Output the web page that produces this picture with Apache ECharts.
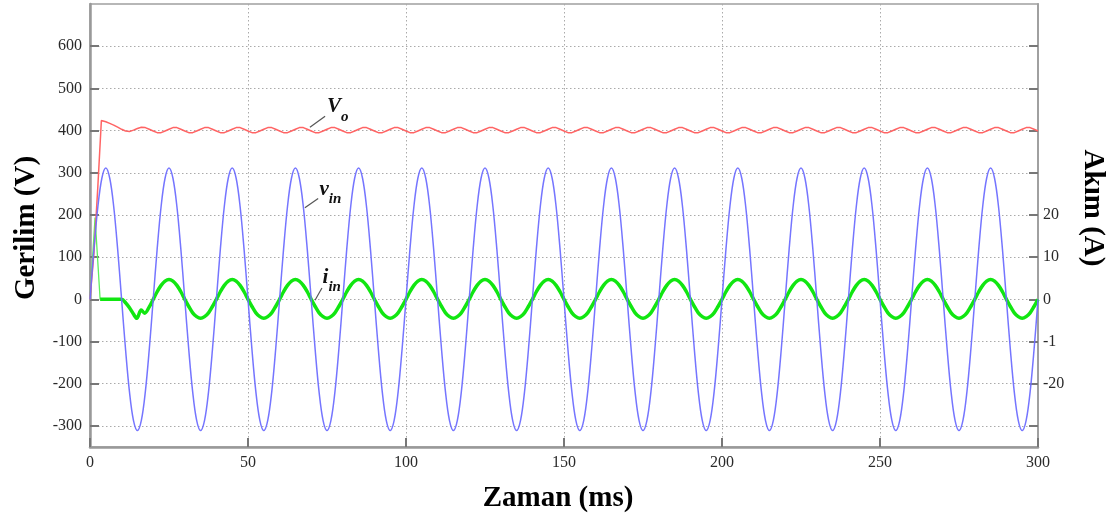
<!DOCTYPE html>
<html><head><meta charset="utf-8">
<script src="https://cdn.jsdelivr.net/npm/echarts@6/dist/echarts.min.js"></script>
<style>html,body{margin:0;padding:0;background:#fff}#c{width:1112px;height:519px}</style>
</head><body><div id="c"></div>
<script>
// ---------- data ----------
const STEP_MS = 1.25;               // sampling step of the sampled waveforms (ms)

// input voltage v_in (V), t = 0 .. 300 ms
const VIN = [
  0,119,220,287,311,287,220,119,0,-119,-220,-287,-311,-287,-220,-119,
  0,119,220,287,311,287,220,119,0,-119,-220,-287,-311,-287,-220,-119,
  0,119,220,287,311,287,220,119,0,-119,-220,-287,-311,-287,-220,-119,
  0,119,220,287,311,287,220,119,0,-119,-220,-287,-311,-287,-220,-119,
  0,119,220,287,311,287,220,119,0,-119,-220,-287,-311,-287,-220,-119,
  0,119,220,287,311,287,220,119,0,-119,-220,-287,-311,-287,-220,-119,
  0,119,220,287,311,287,220,119,0,-119,-220,-287,-311,-287,-220,-119,
  0,119,220,287,311,287,220,119,0,-119,-220,-287,-311,-287,-220,-119,
  0,119,220,287,311,287,220,119,0,-119,-220,-287,-311,-287,-220,-119,
  0,119,220,287,311,287,220,119,0,-119,-220,-287,-311,-287,-220,-119,
  0,119,220,287,311,287,220,119,0,-119,-220,-287,-311,-287,-220,-119,
  0,119,220,287,311,287,220,119,0,-119,-220,-287,-311,-287,-220,-119,
  0,119,220,287,311,287,220,119,0,-119,-220,-287,-311,-287,-220,-119,
  0,119,220,287,311,287,220,119,0,-119,-220,-287,-311,-287,-220,-119,
  0,119,220,287,311,287,220,119,0,-119,-220,-287,-311,-287,-220,-119,
  0
];

// output voltage V_o (V): start-up points [t(ms), V]
const VO_START = [[0,0],[1.25,110],[2.5,270],[3.6,424],[5,421],[6.25,417],[7.5,413],[8.75,408],
  [10,403],[11.25,399],[12.5,398],[13.75,401],[15,405],[16.25,408],[17.5,407],[18.75,403]];
// output voltage V_o (V), steady part, t = 20 .. 300 ms
const VO_T0 = 20;
const VO_STEADY = [
  399,395,395,399,403,407,407,403, 399,395,395,399,403,407,407,403,
  399,395,395,399,403,407,407,403, 399,395,395,399,403,407,407,403,
  399,395,395,399,403,407,407,403, 399,395,395,399,403,407,407,403,
  399,395,395,399,403,407,407,403, 399,395,395,399,403,407,407,403,
  399,395,395,399,403,407,407,403, 399,395,395,399,403,407,407,403,
  399,395,395,399,403,407,407,403, 399,395,395,399,403,407,407,403,
  399,395,395,399,403,407,407,403, 399,395,395,399,403,407,407,403,
  399,395,395,399,403,407,407,403, 399,395,395,399,403,407,407,403,
  399,395,395,399,403,407,407,403, 399,395,395,399,403,407,407,403,
  399,395,395,399,403,407,407,403, 399,395,395,399,403,407,407,403,
  399,395,395,399,403,407,407,403, 399,395,395,399,403,407,407,403,
  399,395,395,399,403,407,407,403, 399,395,395,399,403,407,407,403,
  399,395,395,399,403,407,407,403, 399,395,395,399,403,407,407,403,
  399,395,395,399,403,407,407,403, 399,395,395,399,403,407,407,403,
  399
];

// input current i_in (A): inrush spike [t(ms), A]
const IIN_SPIKE = [[0,0],[1.6,19.4],[3.2,0]];
// input current i_in (A): first cycle [t(ms), A]
const IIN_START = [[3.2,0],[10,0],[11.25,-0.8],[12.5,-2.0],[13.75,-3.5],[14.8,-4.5],[16.2,-2.5],
  [17.3,-3.3],[18.75,-1.8]];
// input current i_in (A), steady part, t = 20 .. 300 ms
const IIN_T0 = 20;
const IIN_STEADY = [
  0,1.8,3.3,4.3,4.7,4.3,3.3,1.8,0,-1.7,-3.2,-4.1,-4.5,-4.1,-3.2,-1.7,
  0,1.8,3.3,4.3,4.7,4.3,3.3,1.8,0,-1.7,-3.2,-4.1,-4.5,-4.1,-3.2,-1.7,
  0,1.8,3.3,4.3,4.7,4.3,3.3,1.8,0,-1.7,-3.2,-4.1,-4.5,-4.1,-3.2,-1.7,
  0,1.8,3.3,4.3,4.7,4.3,3.3,1.8,0,-1.7,-3.2,-4.1,-4.5,-4.1,-3.2,-1.7,
  0,1.8,3.3,4.3,4.7,4.3,3.3,1.8,0,-1.7,-3.2,-4.1,-4.5,-4.1,-3.2,-1.7,
  0,1.8,3.3,4.3,4.7,4.3,3.3,1.8,0,-1.7,-3.2,-4.1,-4.5,-4.1,-3.2,-1.7,
  0,1.8,3.3,4.3,4.7,4.3,3.3,1.8,0,-1.7,-3.2,-4.1,-4.5,-4.1,-3.2,-1.7,
  0,1.8,3.3,4.3,4.7,4.3,3.3,1.8,0,-1.7,-3.2,-4.1,-4.5,-4.1,-3.2,-1.7,
  0,1.8,3.3,4.3,4.7,4.3,3.3,1.8,0,-1.7,-3.2,-4.1,-4.5,-4.1,-3.2,-1.7,
  0,1.8,3.3,4.3,4.7,4.3,3.3,1.8,0,-1.7,-3.2,-4.1,-4.5,-4.1,-3.2,-1.7,
  0,1.8,3.3,4.3,4.7,4.3,3.3,1.8,0,-1.7,-3.2,-4.1,-4.5,-4.1,-3.2,-1.7,
  0,1.8,3.3,4.3,4.7,4.3,3.3,1.8,0,-1.7,-3.2,-4.1,-4.5,-4.1,-3.2,-1.7,
  0,1.8,3.3,4.3,4.7,4.3,3.3,1.8,0,-1.7,-3.2,-4.1,-4.5,-4.1,-3.2,-1.7,
  0,1.8,3.3,4.3,4.7,4.3,3.3,1.8,0,-1.7,-3.2,-4.1,-4.5,-4.1,-3.2,-1.7,
  0
];

// axes
const X_TICKS = [0, 50, 100, 150, 200, 250, 300];
const Y_TICKS = [-300, -200, -100, 0, 100, 200, 300, 400, 500, 600];
const Y2_TICKS = [-30, -20, -10, 0, 10, 20, 30, 40, 50, 60];
const Y2_LABEL_VALUES = [-20, -10, 0, 10, 20];
const Y2_LABEL_TEXT = ['-20', '-1', '0', '10', '20'];

const TITLES = { x: 'Zaman (ms)', y: 'Gerilim (V)', y2: 'Akım (A)' };

// ---------- chart ----------
const SERIF = "'Liberation Serif', 'Times New Roman', serif";
const toPairs = (arr, t0) => arr.map((v, i) => [t0 + i * STEP_MS, v]);

const chart = echarts.init(document.getElementById('c'), null, { renderer: 'canvas' });

const labelStyle = { color: '#2a2a2a', fontFamily: SERIF, fontSize: 16 };
const tickStyle = { show: true, inside: true, length: 9, lineStyle: { color: '#777', width: 2 } };
const gridLine = { show: true, lineStyle: { color: '#aaa', width: 1, type: [1.5, 2.5] } };

chart.setOption({
  animation: false,
  backgroundColor: '#fff',
  grid: { left: 90, right: 74, top: 4, bottom: 72, show: true, borderColor: '#a0a0a0', borderWidth: 1.5 },
  xAxis: {
    type: 'value', min: 0, max: 300, interval: 50,
    axisLine: { show: true, onZero: false, lineStyle: { color: '#999', width: 2.5 } },
    axisTick: tickStyle,
    axisLabel: Object.assign({ margin: 8 }, labelStyle),
    splitLine: gridLine
  },
  yAxis: [{
    type: 'value', min: -350, max: 700, position: 'left',
    axisLine: { show: true, onZero: false, lineStyle: { color: '#999', width: 2.5 } },
    axisTick: Object.assign({}, tickStyle, { customValues: Y_TICKS }),
    axisLabel: Object.assign({ margin: 8, customValues: Y_TICKS }, labelStyle),
    splitLine: gridLine
  }, {
    type: 'value', min: -35, max: 70, position: 'right',
    axisLine: { show: true, onZero: false, lineStyle: { color: '#a0a0a0', width: 2 } },
    axisTick: Object.assign({}, tickStyle, { customValues: Y2_TICKS }),
    axisLabel: Object.assign({ margin: 5, customValues: Y2_LABEL_VALUES,
      formatter: v => { const k = Y2_LABEL_VALUES.indexOf(v); return k >= 0 ? Y2_LABEL_TEXT[k] : ''; } }, labelStyle),
    splitLine: { show: false }
  }],
  series: [
    { name: 'i_in spike', type: 'line', yAxisIndex: 1, data: IIN_SPIKE, symbol: 'none',
      lineStyle: { color: '#5cf05c', width: 1.3 }, z: 2 },
    { name: 'i_in', type: 'line', yAxisIndex: 1, smooth: 0.35,
      data: IIN_START.concat(toPairs(IIN_STEADY, IIN_T0)), symbol: 'none',
      lineStyle: { color: '#11e611', width: 3.5 }, z: 3 },
    { name: 'V_o', type: 'line', yAxisIndex: 0,
      data: VO_START.concat(toPairs(VO_STEADY, VO_T0)), symbol: 'none',
      lineStyle: { color: '#ff6464', width: 1.5 }, z: 4 },
    { name: 'v_in', type: 'line', yAxisIndex: 0, data: toPairs(VIN, 0), symbol: 'none', smooth: 0.35,
      lineStyle: { color: '#6e6eff', width: 1.5, opacity: 0.95 }, z: 5 }
  ]
});

// ---------- annotations (leader lines + labels), anchored in data coordinates ----------
const ANNOTATIONS = [
  { main: 'V', sub: 'o',  from: [69.6, 408], to: [74.4, 434], text: [75.0, 448] },
  { main: 'v', sub: 'in', from: [68.0, 217], to: [72.2, 239], text: [72.6, 252] },
  { main: 'i', sub: 'in', from: [71.2, -2],  to: [73.4, 27],  text: [73.6, 44] }
];
const px = p => chart.convertToPixel({ xAxisIndex: 0, yAxisIndex: 0 }, p);
const graphics = [];
ANNOTATIONS.forEach(a => {
  const p1 = px(a.from), p2 = px(a.to), pt = px(a.text);
  graphics.push({ type: 'line', shape: { x1: p1[0], y1: p1[1], x2: p2[0], y2: p2[1] },
    style: { stroke: '#555', lineWidth: 1.2 }, z: 50 });
  graphics.push({ type: 'text', x: pt[0], y: pt[1], z: 50,
    style: { text: '{m|' + a.main + '}{s|' + a.sub + '}', align: 'left', verticalAlign: 'middle',
      rich: {
        m: { fontFamily: SERIF, fontSize: 21, fontStyle: 'italic', fontWeight: 'bold', fill: '#111', lineHeight: 28, verticalAlign: 'top' },
        s: { fontFamily: SERIF, fontSize: 15, fontStyle: 'italic', fontWeight: 'bold', fill: '#111', lineHeight: 28, verticalAlign: 'bottom' }
      } } });
});
// axis titles
const titleStyle = { fontFamily: SERIF, fontSize: 29, fontWeight: 'bold', fill: '#000', align: 'center', verticalAlign: 'middle' };
graphics.push({ type: 'text', x: 558, y: 499, style: Object.assign({ text: TITLES.x }, titleStyle) });
graphics.push({ type: 'text', x: 27, y: 228, rotation: Math.PI / 2, style: Object.assign({ text: TITLES.y }, titleStyle) });
graphics.push({ type: 'text', x: 1092, y: 208, rotation: -Math.PI / 2, style: Object.assign({ text: TITLES.y2 }, titleStyle) });
chart.setOption({ graphic: graphics });
</script>
</body></html>
